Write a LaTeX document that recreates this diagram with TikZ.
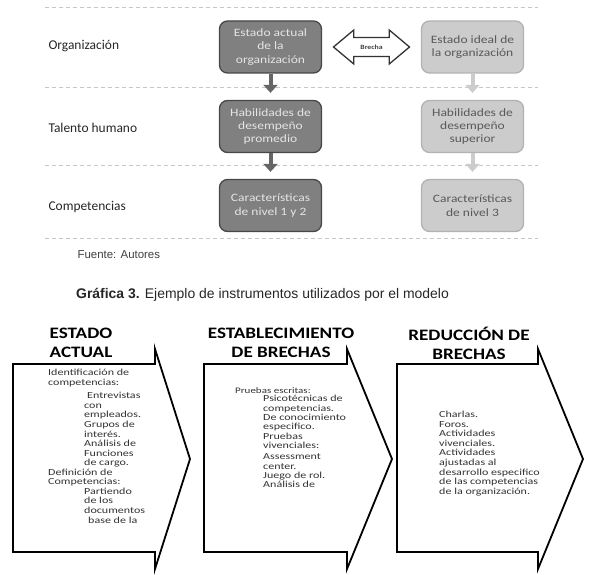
\documentclass[tikz,border=0pt]{standalone}
\usepackage{fontspec}
\setmainfont{Carlito}
\newfontfamily\ancha[FakeStretch=1.2]{Carlito}
\newfontfamily\anchab[FakeStretch=1.3]{Carlito}
\newfontfamily\arial{Liberation Sans}
\usetikzlibrary{arrows.meta,shapes.arrows,calc}
\newcommand{\paso}[3]{\draw[line width=1.8bp,fill=white,line join=miter] (#1,364)--(#2,364)--(#2,349)--(#3,459)--(#2,569)--(#2,552)--(#1,552)--cycle;}

\begin{document}
\begin{tikzpicture}[x=1bp,y=-1bp]
  \tikzset{
    fila/.style={font=\fontsize{13.5}{15}\selectfont,anchor=west,text=black!85},
    caja/.style={rounded corners=8pt,minimum width=102bp,minimum height=52bp,align=center,line width=1.3bp,font=\ancha\fontsize{11.3}{13.5}\selectfont},
    oscura/.style={caja,draw=black!72,fill=black!50,text=black!10},
    clara/.style={caja,draw=black!30,fill=black!20,text=black!65},
    flecha/.style={-{Triangle[width=14bp,length=8bp]},line width=4bp,shorten >=7bp},
    titulo/.style={font=\ancha\fontsize{16}{19}\selectfont\bfseries,align=center},
    cuerpo/.style={font=\anchab\fontsize{9.3}{9.6}\selectfont,align=left,anchor=north west,inner sep=0pt,text=black!80}
  }
  \useasboundingbox (0,0) rectangle (589,575);
  % filas
  \foreach \y in {7,87,165,238}
    \draw[black!22,line width=0.8bp,dash pattern=on 4bp off 3bp] (45,\y)--(538,\y);
  \node[fila] (org) at (45,46) {Organización};
  \node[fila] (tal) at (45,128) {Talento humano};
  \node[fila] (com) at (45,207) {Competencias};
  % estado actual / ideal
  \node[oscura] (ea) at (270.5,47) {Estado actual\\de la\\organización};
  \node[oscura] (hp) at (270.5,126.5) {Habilidades de\\desempeño\\promedio};
  \node[oscura] (c12) at (270.5,205.5) {Características\\de nivel 1 y 2};
  \node[clara] (ei) at (472.5,47) {Estado ideal de\\la organización};
  \node[clara] (hs) at (472.5,126.5) {Habilidades de\\desempeño\\superior};
  \node[clara] (c3) at (472.5,205.5) {Características\\de nivel 3};
  \draw[flecha,black!60] (ea.south)--(hp.north);
  \draw[flecha,black!60] (hp.south)--(c12.north);
  \draw[flecha,black!20] (ei.south)--(hs.north);
  \draw[flecha,black!20] (hs.south)--(c3.north);
  \node[double arrow,draw=black!80,fill=white,line width=1.3bp,minimum height=76bp,
        double arrow head extend=7.5bp,double arrow tip angle=80,inner xsep=2bp,inner ysep=6.5bp,
        font=\ancha\fontsize{6.5}{8}\selectfont\bfseries,text=black!75] (br) at ($(ea.east)!.5!(ei.west)$) {Brecha};
  \node[font=\arial\fontsize{11.5}{13}\selectfont,text=black!75,anchor=west] (fte) at (74,255) {Fuente: Autores};
  \node[font=\arial\fontsize{14}{16}\selectfont,text=black!85] (graf) at (262.5,295)
    {\textbf{Gráfica 3.} Ejemplo de instrumentos utilizados por el modelo};
  % pasos
  \paso{13}{155}{190}
  \paso{204}{347}{392}
  \paso{397}{538}{583}
  \node[titulo] (t1) at (81,343) {ESTADO\\ACTUAL};
  \node[titulo] (t2) at (281,343) {ESTABLECIMIENTO\\DE BRECHAS};
  \node[titulo] (t3) at (469,343) {REDUCCIÓN DE\\BRECHAS};
  \node[cuerpo] (p1) at (48,369) {Identificación de\\competencias:\\[4bp]
    \hspace*{39bp}Entrevistas\\ \hspace*{36bp}con\\ \hspace*{36bp}empleados.\\
    \hspace*{36bp}Grupos de\\ \hspace*{36bp}interés.\\ \hspace*{36bp}Análisis de\\
    \hspace*{36bp}Funciones\\ \hspace*{36bp}de cargo.\\ Definición de\\ Competencias:\\
    \hspace*{36bp}Partiendo\\ \hspace*{36bp}de los\\ \hspace*{36bp}documentos\\ \hspace*{40bp}base de la};
  \node[cuerpo,font=\anchab\fontsize{8.5}{9}\selectfont] (p2a) at (235,387) {Pruebas escritas:};
  \node[cuerpo,font=\anchab\fontsize{9.3}{9.4}\selectfont] (p2b) at (263,395) {Psicotécnicas de\\
    competencias.\\ De conocimiento\\ especifico.\\ Pruebas\\ vivenciales:\\[2bp]
    Assessment\\ center.\\ Juego de rol.\\ Análisis de};
  \node[cuerpo] (p3) at (439,411) {Charlas.\\ Foros.\\ Actividades\\ vivenciales.\\ Actividades\\
    ajustadas al\\ desarrollo especifico\\ de las competencias\\ de la organización.};
\end{tikzpicture}
\end{document}
